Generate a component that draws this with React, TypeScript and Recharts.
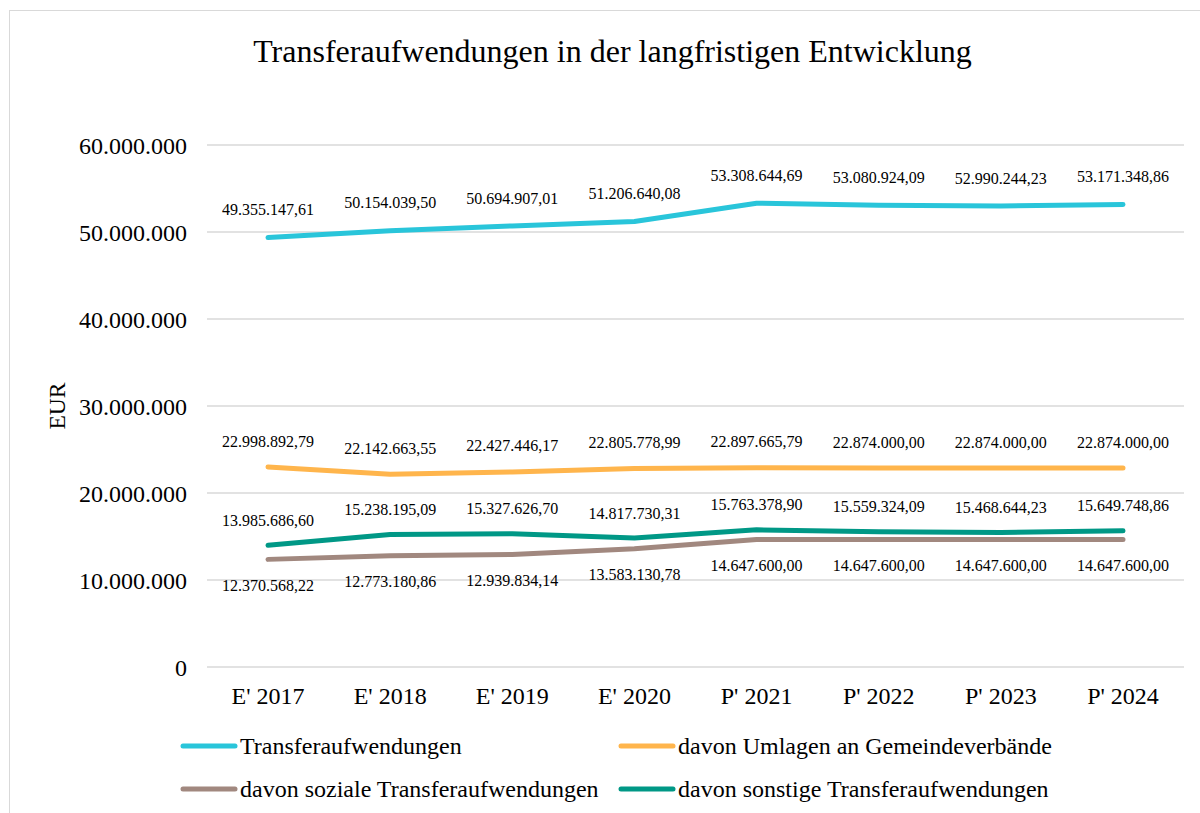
import React from 'react';
import { LineChart, Line, XAxis, YAxis, CartesianGrid, LabelList } from 'recharts';

const categories = ["E' 2017", "E' 2018", "E' 2019", "E' 2020", "P' 2021", "P' 2022", "P' 2023", "P' 2024"];
const transfer = [49355147.61, 50154039.5, 50694907.01, 51206640.08, 53308644.69, 53080924.09, 52990244.23, 53171348.86];
const umlagen = [22998892.79, 22142663.55, 22427446.17, 22805778.99, 22897665.79, 22874000.0, 22874000.0, 22874000.0];
const sozial = [12370568.22, 12773180.86, 12939834.14, 13583130.78, 14647600.0, 14647600.0, 14647600.0, 14647600.0];
const sonstige = [13985686.6, 15238195.09, 15327626.7, 14817730.31, 15763378.9, 15559324.09, 15468644.23, 15649748.86];
const yTicks = [0, 10000000, 20000000, 30000000, 40000000, 50000000, 60000000];

const FONT = '"Liberation Serif", "Times New Roman", serif';

const series = [
  { key: 'transfer', name: 'Transferaufwendungen', color: '#29C5DA', labelDy: -28 },
  { key: 'umlagen', name: 'davon Umlagen an Gemeindeverbände', color: '#FFB54C', labelDy: -26 },
  { key: 'sozial', name: 'davon soziale Transferaufwendungen', color: '#A1887F', labelDy: 26 },
  { key: 'sonstige', name: 'davon sonstige Transferaufwendungen', color: '#009886', labelDy: -25 },
];

const data = categories.map((cat, i) => ({
  cat,
  transfer: transfer[i],
  umlagen: umlagen[i],
  sozial: sozial[i],
  sonstige: sonstige[i],
}));

function groupThousands(s: string) {
  return s.replace(/\B(?=(\d{3})+(?!\d))/g, '.');
}

function fmtInt(v: number) {
  return groupThousands(Math.round(v).toString());
}

function fmtDec(v: number) {
  const [a, b] = v.toFixed(2).split('.');
  return groupThousands(a) + ',' + b;
}

function makeLabel(dy: number) {
  return (props: any) => {
    const { x, y, value } = props;
    return (
      <text x={x} y={y + dy} dy="0.35em" textAnchor="middle" fontSize={16} fontFamily={FONT} fill="#000">
        {fmtDec(value)}
      </text>
    );
  };
}

const legendRows = [
  [series[0], series[1]],
  [series[2], series[3]],
];

export default function App() {
  return (
    <div style={{ position: 'fixed', left: 0, top: 0, width: 1200, height: 813, overflow: 'hidden', background: '#fff' }}>
      <div
        style={{
          position: 'absolute',
          left: 9,
          top: 10,
          width: 1300,
          height: 900,
          border: '1.5px solid #d9d9d9',
        }}
      />
      <div
        style={{
          position: 'absolute',
          left: 0,
          top: 35,
          width: 1225,
          textAlign: 'center',
          fontFamily: FONT,
          fontSize: 32,
          lineHeight: 1,
          color: '#000',
        }}
      >
        Transferaufwendungen in der langfristigen Entwicklung
      </div>
      <div style={{ position: 'absolute', left: 0, top: 0 }}>
        <LineChart width={1200} height={813} data={data} margin={{ top: 145, right: 16, bottom: 106, left: 0 }}>
          <CartesianGrid vertical={false} stroke="#d9d9d9" strokeWidth={1.4} />
          <XAxis
            dataKey="cat"
            axisLine={false}
            tickLine={false}
            tickSize={0}
            tickMargin={20}
            height={40}
            padding={{ left: 61, right: 61 }}
            tick={{ fill: '#000', fontSize: 24, fontFamily: FONT }}
            interval={0}
          />
          <YAxis
            width={207}
            domain={[0, 60000000]}
            ticks={yTicks}
            axisLine={false}
            tickLine={false}
            tickSize={0}
            tickMargin={20}
            tickFormatter={fmtInt}
            tick={{ fill: '#000', fontSize: 24, fontFamily: FONT }}
            label={(props: any) => {
              const vb = props.viewBox;
              const cy = vb.y + vb.height / 2;
              return (
                <text
                  x={57}
                  y={cy}
                  transform={`rotate(-90, 57, ${cy})`}
                  textAnchor="middle"
                  dy="0.35em"
                  fontSize={23.5}
                  fontFamily={FONT}
                  fill="#000"
                >
                  EUR
                </text>
              );
            }}
          />
          {series.map((s) => (
            <Line
              key={s.key}
              type="linear"
              dataKey={s.key}
              name={s.name}
              stroke={s.color}
              strokeWidth={5}
              strokeLinecap="round"
              strokeLinejoin="round"
              dot={false}
              activeDot={false}
              isAnimationActive={false}
            >
              <LabelList dataKey={s.key} content={makeLabel(s.labelDy)} />
            </Line>
          ))}
        </LineChart>
      </div>
      {legendRows.map((row, ri) =>
        row.map((s, ci) => {
          const left = ci === 0 ? 180 : 618;
          const cy = ri === 0 ? 746 : 789;
          return (
            <div
              key={s.key}
              style={{
                position: 'absolute',
                left,
                top: cy - 16,
                height: 32,
                display: 'flex',
                alignItems: 'center',
                whiteSpace: 'nowrap',
                fontFamily: FONT,
                fontSize: 24,
                color: '#000',
              }}
            >
              <svg width={58} height={10} style={{ marginRight: 2 }}>
                <line x1={3} y1={5} x2={55} y2={5} stroke={s.color} strokeWidth={5} strokeLinecap="round" />
              </svg>
              <span>{s.name}</span>
            </div>
          );
        })
      )}
    </div>
  );
}
